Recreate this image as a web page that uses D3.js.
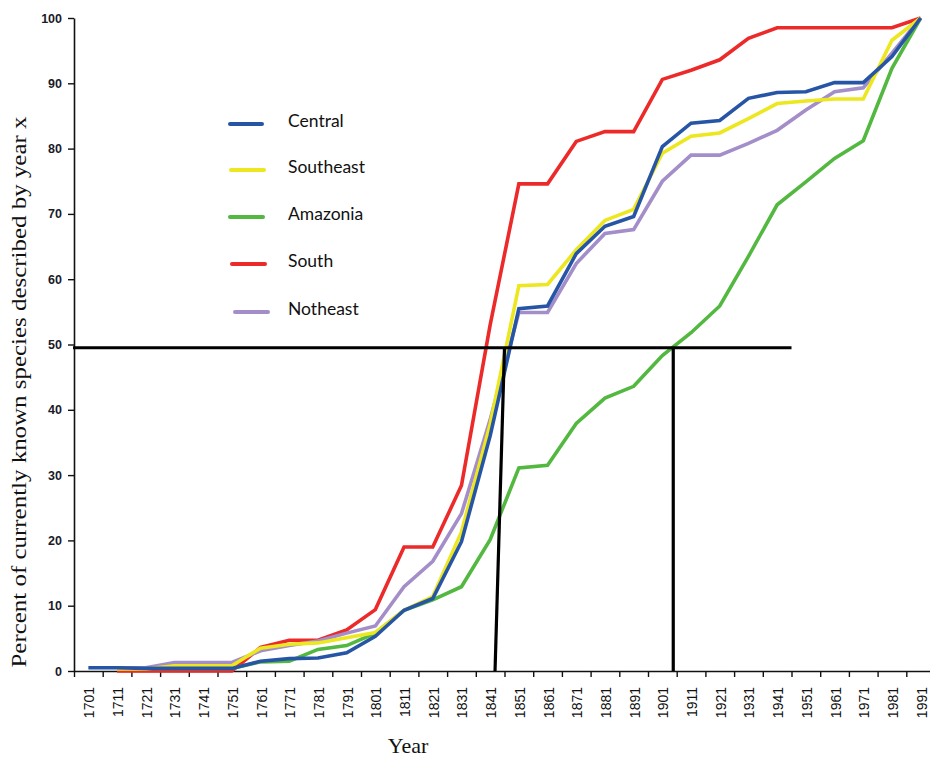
<!DOCTYPE html>
<html>
<head>
<meta charset="utf-8">
<script src="https://cdn.jsdelivr.net/npm/d3@7"></script>
<style>
  html, body { margin: 0; padding: 0; background: #fff; }
  svg { display: block; }
</style>
</head>
<body>
<svg id="chart" width="930" height="761"></svg>
<script>
// Cumulative share of currently known species described by each year, per region
const years = ["1701","1711","1721","1731","1741","1751","1761","1771","1781","1791",
  "1801","1811","1821","1831","1841","1851","1861","1871","1881","1891",
  "1901","1911","1921","1931","1941","1951","1961","1971","1981","1991"];

const central   = [0.5,0.5,0.4,0.4,0.4,0.4,1.5,1.9,2.0,2.8,5.3,9.3,11.1,19.8,36.0,55.5,55.9,63.9,68.1,69.6,80.3,83.9,84.3,87.7,88.6,88.7,90.1,90.1,94.1,100];
const southeast = [null,0.3,0.3,0.8,0.8,0.8,3.5,4.1,4.3,5.1,5.9,9.3,11.4,21.3,37.8,59.0,59.2,64.5,69.0,70.7,79.3,81.9,82.4,84.6,86.9,87.3,87.6,87.6,96.6,100];
const amazonia  = [null,0.4,0.4,0.4,0.4,0.4,1.4,1.5,3.3,3.9,5.8,9.3,10.9,12.9,20.1,31.1,31.5,37.9,41.8,43.6,48.3,51.8,55.9,63.5,71.4,74.9,78.5,81.2,92.3,100];
const south     = [null,0,0,0,0,0,3.6,4.7,4.7,6.3,9.4,19.0,19.0,28.4,53.0,74.6,74.6,81.1,82.6,82.6,90.6,92.0,93.6,96.9,98.5,98.5,98.5,98.5,98.5,100];
const notheast  = [null,0.4,0.5,1.3,1.3,1.3,3.1,3.9,4.6,5.8,6.9,12.9,16.8,24.1,38.5,54.9,54.9,62.4,67.0,67.6,75.0,79.0,79.0,80.8,82.8,85.9,88.7,89.3,94.6,100];

const seriesNames  = ["Central","Southeast","Amazonia","South","Notheast"];
const seriesColors = ["#2755a6","#ece71e","#52b840","#ec2a2a","#a48ec9"];
const seriesValues = [central, southeast, amazonia, south, notheast];
// drawing order (first drawn sits underneath)
const drawOrder = [3, 2, 4, 1, 0];

const yTicks = [0,10,20,30,40,50,60,70,80,90,100];

// 50% guide: level, horizontal extent and the two drops (positions in category units)
const guideLevel = 49.5;
const guideSpan = [0, 25];
const guideDrops = [[14.67, 15.0], [20.88, 20.88]];

const svg = d3.select("#chart");
const plotLeft = 74, plotRight = 935, plotTop = 18, plotBottom = 671;

const x = d3.scaleBand().domain(years).range([plotLeft, plotRight]);
const xi = d3.scaleLinear().domain([0, years.length]).range([plotLeft, plotRight]);
const y = d3.scaleLinear().domain([0, 100]).range([plotBottom, plotTop]);

// x axis: tick marks on category boundaries
svg.append("g")
  .attr("transform", `translate(0,${plotBottom})`)
  .call(d3.axisBottom(xi).tickValues(d3.range(0, years.length + 1)).tickSize(6).tickSizeOuter(0).tickFormat(""))
  .call(g => g.select(".domain").attr("stroke", "#111").attr("stroke-width", 1.6))
  .call(g => g.selectAll(".tick line").attr("stroke", "#111").attr("stroke-width", 1.4));

// x axis labels, rotated
svg.append("g")
  .attr("transform", `translate(0,${plotBottom})`)
  .call(d3.axisBottom(x).tickSize(0).tickSizeOuter(0))
  .call(g => g.select(".domain").remove())
  .call(g => g.selectAll(".tick text")
    .attr("transform", "rotate(-90)")
    .attr("text-anchor", "end")
    .attr("x", -16)
    .attr("y", 1)
    .attr("dy", "0.36em")
    .attr("fill", "#111")
    .style("font-family", "'Liberation Sans', Arial, sans-serif")
    .style("font-size", "14px"));

// y axis
svg.append("g")
  .attr("transform", `translate(${plotLeft},0)`)
  .call(d3.axisLeft(y).tickValues(yTicks).tickSize(6).tickSizeOuter(0).tickPadding(6))
  .call(g => g.select(".domain").attr("stroke", "#111").attr("stroke-width", 1.6))
  .call(g => g.selectAll(".tick line").attr("stroke", "#111").attr("stroke-width", 1.4))
  .call(g => g.selectAll(".tick text")
    .attr("fill", "#1a1a2a")
    .style("font-family", "'Liberation Sans', Arial, sans-serif")
    .style("font-weight", "bold")
    .style("font-size", "12.5px"));

// series lines
const line = d3.line()
  .defined(d => d.v !== null)
  .x(d => xi(d.i + 0.5))
  .y(d => y(d.v));

drawOrder.forEach(k => {
  const pts = seriesValues[k].map((v, i) => ({ i, v }));
  svg.append("path")
    .datum(pts)
    .attr("fill", "none")
    .attr("stroke", seriesColors[k])
    .attr("stroke-width", 3.6)
    .attr("stroke-linejoin", "miter")
    .attr("d", line);
});

// 50% guide lines
const guide = svg.append("g").attr("stroke", "#000").attr("stroke-width", 3.2).attr("fill", "none");
guide.append("line")
  .attr("x1", xi(guideSpan[0]) - 1).attr("x2", xi(guideSpan[1]))
  .attr("y1", y(guideLevel)).attr("y2", y(guideLevel));
guideDrops.forEach(([a, b]) => {
  guide.append("line")
    .attr("x1", xi(a)).attr("y1", y(0))
    .attr("x2", xi(b)).attr("y2", y(guideLevel));
});

// legend
const legend = svg.append("g");
const legendRows = [121, 167, 214, 261, 309];
const legendLineX = [[230, 262], [231, 264], [230, 263], [232, 265], [235, 268]];
seriesNames.forEach((name, k) => {
  const ly = legendRows[k];
  legend.append("line")
    .attr("x1", legendLineX[k][0]).attr("x2", legendLineX[k][1])
    .attr("y1", ly + 3).attr("y2", ly + 3)
    .attr("stroke", seriesColors[k]).attr("stroke-width", 4)
    .attr("stroke-linecap", "round");
  legend.append("text")
    .attr("x", 288).attr("y", ly)
    .attr("dy", "0.36em")
    .attr("fill", "#111")
    .style("font-family", "Lato, 'Noto Sans', sans-serif")
    .style("font-size", "17.5px")
    .text(name);
});

// axis titles
svg.append("text")
  .attr("x", 408).attr("y", 753)
  .attr("text-anchor", "middle")
  .attr("fill", "#111")
  .style("font-family", "'Liberation Serif', 'Times New Roman', serif")
  .style("font-size", "22px")
  .text("Year");

svg.append("text")
  .attr("transform", "translate(26,392) rotate(-90)")
  .attr("text-anchor", "middle")
  .attr("fill", "#111")
  .attr("textLength", 551)
  .attr("lengthAdjust", "spacingAndGlyphs")
  .style("font-family", "'Liberation Serif', 'Times New Roman', serif")
  .style("font-size", "22px")
  .text("Percent of currently known species described by year x");
</script>
</body>
</html>
